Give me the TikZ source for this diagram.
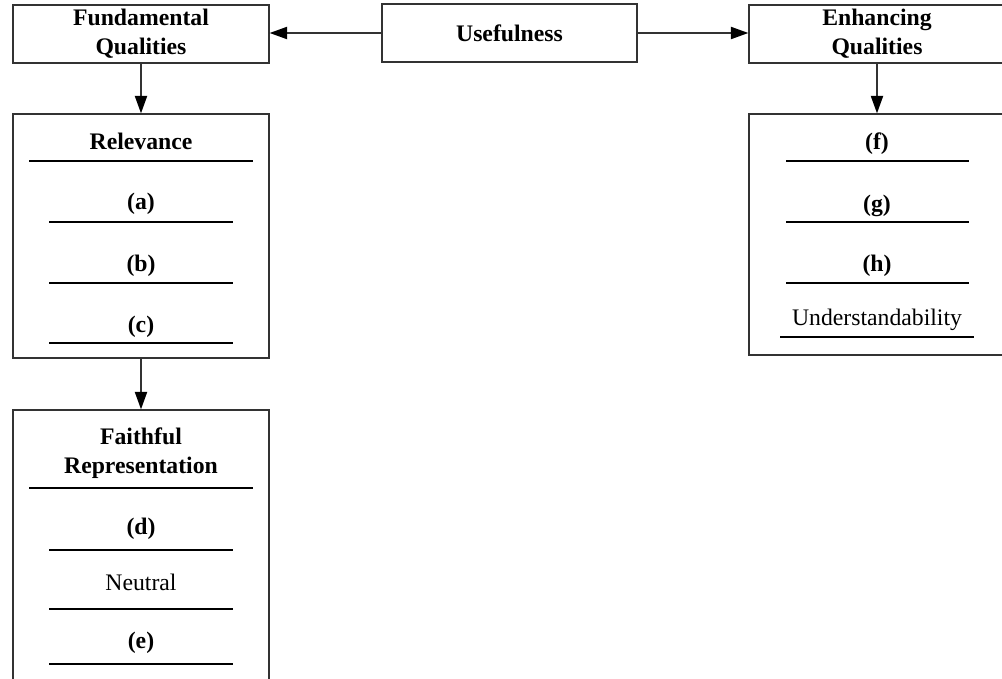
\documentclass[tikz,border=0pt]{standalone}
\usepackage{fontspec}
\setmainfont{Liberation Serif}
\usetikzlibrary{arrows.meta}
\tikzset{box/.style = {draw=black!80, line width=0.8pt, inner sep=0, align=center, font=\bfseries}}
\tikzset{head/.style = {inner sep=0, align=center, font=\bfseries}}
\tikzset{plain/.style = {inner sep=0, align=center}}
\tikzset{sep/.style = {line width=0.6pt}}
\tikzset{link/.style = {-{Triangle[length=10pt, width=7pt, color=black]}, draw=black!80, line width=0.8pt}}

\begin{document}
\fontsize{13.5}{16.4}\selectfont
\begin{tikzpicture}[x=0.02cm, y=-0.02cm]
    \useasboundingbox (0, 0) rectangle (1002, 679);
    \clip (0, 0) rectangle (1002, 679);

    % top row
    \node [box, minimum width=5.12cm, minimum height=1.16cm] (fund) at (141, 34) {Fundamental\\Qualities};
    \node [box, minimum width=5.10cm, minimum height=1.16cm] (use) at (509.5, 33) {Usefulness};
    \node [box, minimum width=5.12cm, minimum height=1.16cm] (enh) at (877, 34) {Enhancing\\Qualities};

    \draw [link] (use) -- (fund.east |- use);
    \draw [link] (use) -- (enh.west |- use);

    % the lists below
    \node [box, minimum width=5.12cm, minimum height=4.88cm] (rel) at (141, 236) {};
    \node [box, minimum width=5.12cm, minimum height=5.8cm] (faith) at (141, 555) {};
    \node [box, minimum width=5.12cm, minimum height=4.82cm] (enhlist) at (877, 234.5) {};

    \draw [link] (fund) -- (rel);
    \draw [link] (rel) -- (faith);
    \draw [link] (enh) -- (enhlist);

    % relevance
    \node [head] (relhead) at (141, 141) {Relevance};
    \draw [sep] (29, 161) -- (253, 161);
    \node [head] (ita) at (141, 204) {(a)};
    \draw [sep] (49, 222) -- (233, 222);
    \node [head] (itb) at (141, 266) {(b)};
    \draw [sep] (49, 283) -- (233, 283);
    \node [head] (itc) at (141, 327) {(c)};
    \draw [sep] (49, 343) -- (233, 343);

    % faithful representation
    \node [head] (faithhead) at (141, 453) {Faithful\\Representation};
    \draw [sep] (29, 488) -- (253, 488);
    \node [head] (itd) at (141, 529) {(d)};
    \draw [sep] (49, 550) -- (233, 550);
    \node [plain] (neutral) at (141, 582) {Neutral};
    \draw [sep] (49, 609) -- (233, 609);
    \node [head] (ite) at (141, 643) {(e)};
    \draw [sep] (49, 664) -- (233, 664);

    % enhancing qualities
    \node [head] (itf) at (877, 144) {(f)};
    \draw [sep] (786, 161) -- (969, 161);
    \node [head] (itg) at (877, 206) {(g)};
    \draw [sep] (786, 222) -- (969, 222);
    \node [head] (ith) at (877, 266) {(h)};
    \draw [sep] (786, 283) -- (969, 283);
    \node [plain] (underst) at (877, 320) {Understandability};
    \draw [sep] (780, 337) -- (974, 337);
\end{tikzpicture}
\end{document}
